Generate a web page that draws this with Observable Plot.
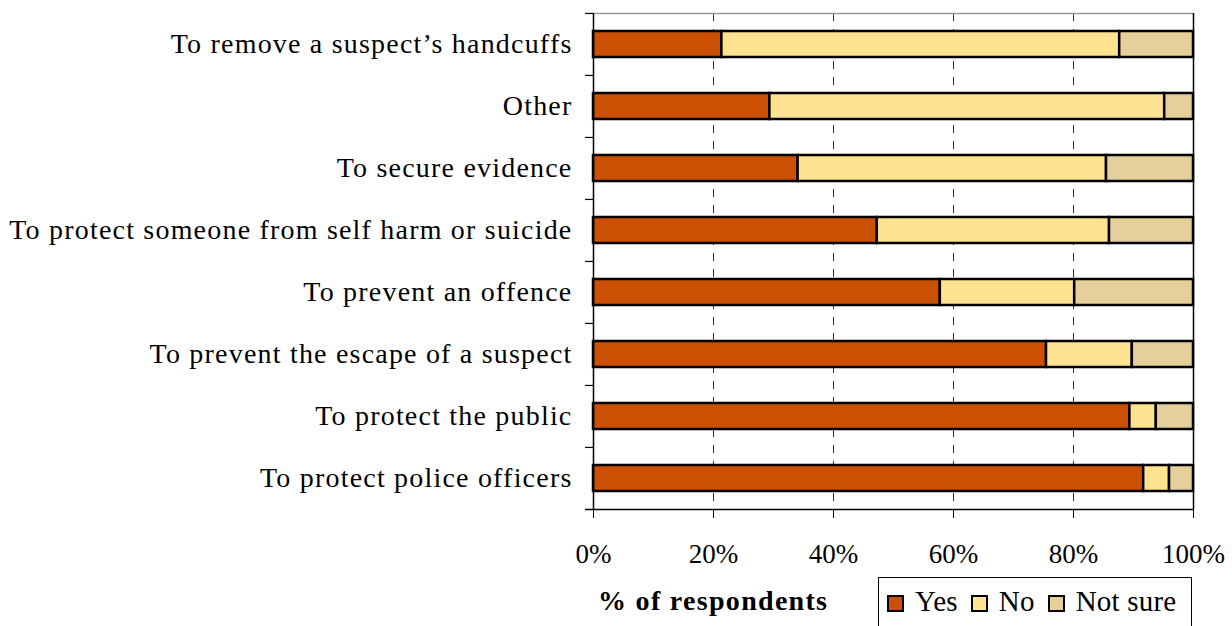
<!DOCTYPE html>
<html><head><meta charset="utf-8">
<script src="https://cdn.jsdelivr.net/npm/d3@7"></script>
<script src="https://cdn.jsdelivr.net/npm/@observablehq/plot@0.6"></script>
<style>
body{margin:0;background:#fff;font-family:"Liberation Serif",Tinos,"Times New Roman",Times,serif;color:#000;}
#wrap{position:relative;width:1232px;height:626px;overflow:hidden;background:#fff;}
#chart svg{display:block;}
#chart svg text{font-family:"Liberation Serif",Tinos,"Times New Roman",Times,serif;}
#chart g[aria-label="y-axis tick label"] text{letter-spacing:1.2px;}
#xtitle{position:absolute;left:598px;top:585px;font-weight:bold;font-size:28px;letter-spacing:1.3px;white-space:nowrap;}
#legend{position:absolute;left:878px;top:577px;width:314px;height:70px;border:1px solid #000;box-sizing:border-box;display:flex;align-items:flex-start;padding:6px 0 0 8px;font-size:29px;line-height:34px;letter-spacing:0.2px;white-space:nowrap;}
.item{display:flex;align-items:center;margin-right:13px;}
.sw{width:13px;height:13px;border:2px solid #000;margin-right:11px;position:relative;top:2px;}
</style></head><body>
<div id="wrap"><div id="chart"></div><div id="xtitle">% of respondents</div><div id="legend"></div></div>
<script>
const categories = [
  "To remove a suspect’s handcuffs",
  "Other",
  "To secure evidence",
  "To protect someone from self harm or suicide",
  "To prevent an offence",
  "To prevent the escape of a suspect",
  "To protect the public",
  "To protect police officers"
];
const yesValues     = [21.4, 29.4, 34.1, 47.3, 57.8, 75.5, 89.4, 91.7];
const noValues      = [66.3, 65.8, 51.4, 38.7, 22.4, 14.3,  4.4,  4.3];
const notSureValues = [12.3,  4.8, 14.5, 14.0, 19.8, 10.2,  6.2,  4.0];
const responses = ["Yes", "No", "Not sure"];
const colors = ["#CC5003", "#FFE391", "#E5D09C"];
const xTicks = [0, 20, 40, 60, 80, 100];
const gridTicks = [20, 40, 60, 80];

const data = categories.flatMap((c, i) => [
  {category: c, response: "Yes", value: yesValues[i]},
  {category: c, response: "No", value: noValues[i]},
  {category: c, response: "Not sure", value: notSureValues[i]}
]);

const W = 1232, H = 575, mT = 13, mB = 65, mL = 593, mR = 39;
const step = (H - mT - mB) / categories.length;
const tickLen = 8 * 100 / (W - mL - mR);
const serif = "'Liberation Serif', Tinos, 'Times New Roman', Times, serif";

const plot = Plot.plot({
  width: W, height: H,
  marginTop: mT, marginBottom: mB, marginLeft: mL, marginRight: mR,
  style: {fontFamily: serif, fontSize: "28px", color: "#000", background: "#fff", overflow: "visible"},
  x: {domain: [0, 100]},
  y: {domain: categories, paddingInner: 0.58, paddingOuter: 0.29},
  color: {domain: responses, range: colors},
  marks: [
    Plot.ruleX(gridTicks, {stroke: "#333", strokeWidth: 1, strokeDasharray: "8,8"}),
    Plot.ruleY([categories[0]], {dy: -step / 2, x1: 0, x2: 100, stroke: "#999", strokeWidth: 1.5}),
    Plot.ruleX([100], {stroke: "#000", strokeWidth: 1.5}),
    Plot.barX(data, Plot.stackX({x: "value", y: "category", fill: "response", stroke: "#000", strokeWidth: 2.5, order: null})),
    Plot.ruleX([0], {stroke: "#000", strokeWidth: 1.5}),
    Plot.ruleY(categories, {dy: -step / 2, x1: -tickLen, x2: 0, stroke: "#000", strokeWidth: 1.2, clip: false}),
    Plot.ruleY([categories[categories.length - 1]], {dy: step / 2, x1: -tickLen, x2: 100, stroke: "#000", strokeWidth: 1.5, clip: false}),
    Plot.axisX({ticks: xTicks, tickFormat: d => d + "%", tickSize: 8, tickPadding: 25, fontSize: 27, stroke: "#000", label: null}),
    Plot.axisY({tickSize: 0, tickPadding: 21, fontSize: 28, label: null})
  ]
});
document.getElementById("chart").appendChild(plot);

const legend = document.getElementById("legend");
responses.forEach((r, i) => {
  const it = document.createElement("div");
  it.className = "item";
  const sw = document.createElement("div");
  sw.className = "sw";
  sw.style.background = colors[i];
  const t = document.createElement("span");
  t.textContent = r;
  it.appendChild(sw); it.appendChild(t);
  legend.appendChild(it);
});
</script>
</body></html>
